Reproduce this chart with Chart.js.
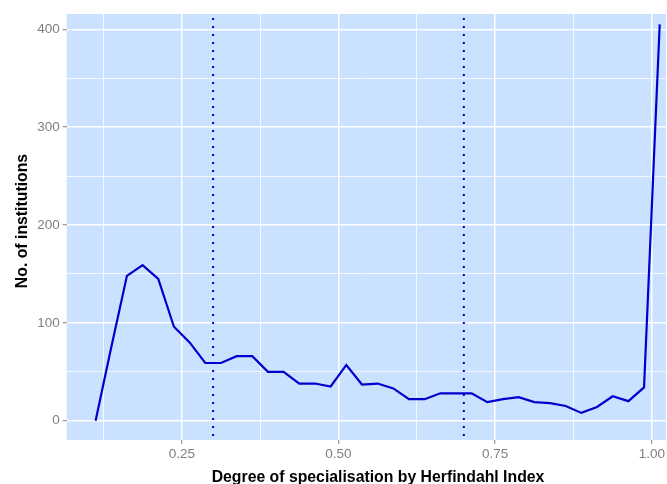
<!DOCTYPE html>
<html>
<head>
<meta charset="utf-8">
<script src="https://cdn.jsdelivr.net/npm/chart.js@4.4.0/dist/chart.umd.min.js"></script>
<style>
  body { margin: 0; background: #ffffff; }
  #wrap { width: 667px; height: 484px; position: relative; }
</style>
</head>
<body>
<div id="wrap"><canvas id="herfCanvas"></canvas></div>
<script>
// bin midpoints (Herfindahl index) and number of institutions per bin
const binMid = [
  0.1125, 0.1375, 0.1625, 0.1875, 0.2125, 0.2375, 0.2625, 0.2875, 0.3125, 0.3375,
  0.3625, 0.3875, 0.4125, 0.4375, 0.4625, 0.4875, 0.5125, 0.5375, 0.5625, 0.5875,
  0.6125, 0.6375, 0.6625, 0.6875, 0.7125, 0.7375, 0.7625, 0.7875, 0.8125, 0.8375,
  0.8625, 0.8875, 0.9125, 0.9375, 0.9625, 0.9875, 1.0125,
];
const counts = [
  0, 75, 148, 159, 145, 96, 80, 59, 59, 66,
  66, 50, 50, 38, 38, 35, 57, 37, 38, 33,
  22, 22, 28, 28, 28, 19, 22, 24, 19, 18,
  15, 8, 14, 25, 20, 34, 405,
];

// cut-offs shown as dotted lines
const cutOffs = [0.3, 0.7];

// axis ticks
const xMajor = [0.25, 0.5, 0.75, 1.0];
const xMinor = [0.125, 0.375, 0.625, 0.875];
const yMajor = [0, 100, 200, 300, 400];
const yMinor = [50, 150, 250, 350];

const xTitle = "Degree of specialisation by Herfindahl Index";
const yTitle = "No. of institutions";

const PANEL_BG = "#cae1ff";
const TICK_GREY = "#7f7f7f";
const FONT = "'Liberation Sans', Arial, sans-serif";

const panelBg = {
  id: "panelBg",
  beforeDraw(chart) {
    const { ctx, chartArea: a } = chart;
    ctx.save();
    ctx.fillStyle = PANEL_BG;
    ctx.fillRect(a.left, a.top, a.right - a.left, a.bottom - a.top);
    ctx.restore();
  },
};

const cutOffLines = {
  id: "cutOffLines",
  afterDatasetsDraw(chart) {
    const { ctx, chartArea: a, scales } = chart;
    ctx.save();
    ctx.strokeStyle = "#0000cd";
    ctx.lineWidth = 2;
    ctx.setLineDash([2, 6]);
    ctx.lineDashOffset = 4;
    cutOffs.forEach(function (v) {
      const x = scales.x.getPixelForValue(v);
      ctx.beginPath();
      ctx.moveTo(x, a.top);
      ctx.lineTo(x, a.bottom);
      ctx.stroke();
    });
    ctx.restore();
  },
};

// axis titles: the original plot is cropped on the right, so the
// x title sits a bit right of the visible panel centre
const axisTitles = {
  id: "axisTitles",
  afterDraw(chart) {
    const ctx = chart.ctx;
    ctx.save();
    ctx.fillStyle = "#000000";
    ctx.font = "bold 15.8px " + FONT;
    ctx.textAlign = "center";
    ctx.textBaseline = "alphabetic";
    ctx.fillText(xTitle, 378, 481.5);
    ctx.translate(26.5, 221);
    ctx.rotate(-Math.PI / 2);
    ctx.fillText(yTitle, 0, 0);
    ctx.restore();
  },
};

function sortedTicks(major, minor) {
  return major.concat(minor).sort((a, b) => a - b).map((v) => ({ value: v }));
}

function herfChart() {
  const ctx = document.getElementById("herfCanvas").getContext("2d");

  new Chart(ctx, {
    type: "line",
    data: {
      datasets: [
        {
          data: binMid.map((x, i) => ({ x: x, y: counts[i] })),
          borderColor: "#0000cd",
          borderWidth: 2.2,
          pointRadius: 0,
          tension: 0,
          fill: false,
        },
      ],
    },
    options: {
      responsive: true,
      maintainAspectRatio: false,
      animation: false,
      layout: { padding: { top: 14, right: 0, bottom: 0, left: 0 } },
      plugins: {
        legend: { display: false },
        tooltip: { enabled: false },
      },
      scales: {
        x: {
          type: "linear",
          min: 0.0664,
          max: 1.0223,
          afterBuildTicks: (s) => { s.ticks = sortedTicks(xMajor, xMinor); },
          afterFit: (s) => { s.height = 44; },
          border: { display: false },
          grid: {
            color: "#ffffff",
            lineWidth: (c) => (xMajor.includes(c.tick && c.tick.value) ? 1.5 : 0.8),
            tickColor: (c) => (xMajor.includes(c.tick && c.tick.value) ? TICK_GREY : "rgba(0,0,0,0)"),
            tickWidth: 1,
            tickLength: 4,
          },
          ticks: {
            autoSkip: false,
            maxRotation: 0,
            padding: 2,
            color: TICK_GREY,
            font: { family: FONT, size: 13.5 },
            callback: (v) => (xMajor.includes(v) ? v.toFixed(2) : ""),
          },
        },
        y: {
          type: "linear",
          min: -19.7,
          max: 415.6,
          afterBuildTicks: (s) => { s.ticks = sortedTicks(yMajor, yMinor); },
          afterFit: (s) => { s.width = 66.7; },
          border: { display: false },
          grid: {
            color: "#ffffff",
            lineWidth: (c) => (yMajor.includes(c.tick && c.tick.value) ? 1.5 : 0.8),
            tickColor: (c) => (yMajor.includes(c.tick && c.tick.value) ? TICK_GREY : "rgba(0,0,0,0)"),
            tickWidth: 1,
            tickLength: 4,
          },
          ticks: {
            autoSkip: false,
            padding: 3,
            color: TICK_GREY,
            font: { family: FONT, size: 13.5 },
            callback: (v) => (yMajor.includes(v) ? String(v) : ""),
          },
        },
      },
    },
    plugins: [panelBg, cutOffLines, axisTitles],
  });
}

herfChart();
</script>
</body>
</html>
